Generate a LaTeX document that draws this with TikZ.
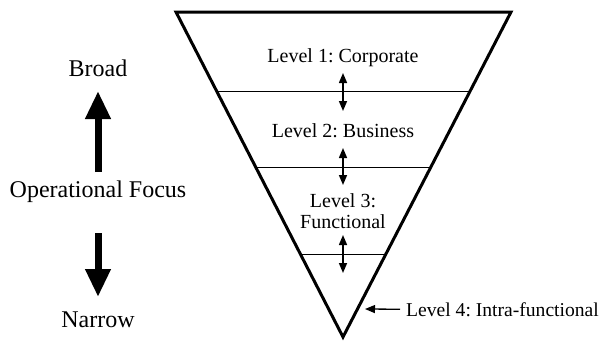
\documentclass[tikz,border=0pt]{standalone}
\usepackage{fontspec}
\setmainfont{Liberation Serif}
\usetikzlibrary{arrows.meta}
\frenchspacing
\begin{document}
\begin{tikzpicture}[x=1pt,y=-1pt,
  lvl/.style={inner sep=0pt,font=\fontsize{20}{21}\selectfont},
  side/.style={inner sep=0pt,font=\fontsize{24}{26}\selectfont},
  frame/.style={line width=3pt,line join=miter},
  divider/.style={line width=1pt},
  dbl/.style={line width=1.5pt,{Triangle[width=8pt,length=10pt]}-{Triangle[width=8pt,length=10pt]}},
  pointer/.style={line width=1.3pt,-{Triangle[width=8pt,length=10pt]}},
  bigarrow/.style={line width=7pt,-{Triangle[width=24pt,length=28pt]}}]
\useasboundingbox (0,0) rectangle (603,341);
% triangle
\coordinate (TL) at (176,12);
\coordinate (TR) at (511,12);
\coordinate (AP) at (343,337);
\draw[frame] (TL) -- (TR) -- (AP) -- cycle;
% dividers
\path (TL) -- (AP) coordinate[pos=0.246] (d1l) coordinate[pos=0.477] (d2l) coordinate[pos=0.745] (d3l);
\path (TR) -- (AP) coordinate[pos=0.246] (d1r) coordinate[pos=0.477] (d2r) coordinate[pos=0.745] (d3r);
\draw[divider] (d1l) -- (d1r);
\draw[divider] (d2l) -- (d2r);
\draw[divider] (d3l) -- (d3r);
% level texts
\node[lvl,anchor=base] (l1) at (343,62) {Level 1: Corporate};
\node[lvl,anchor=base] (l2) at (343,137) {Level 2: Business};
\node[lvl,align=center] (l3) at (343,210.8) {Level 3:\\Functional};
\node[lvl,anchor=base west,font=\fontsize{19.6}{21}\selectfont] (l4) at (406,316) {Level 4: Intra-functional};
% double arrows
\coordinate (a1t) at (343,73);  \coordinate (a1b) at (343,111);
\coordinate (a2t) at (343,148); \coordinate (a2b) at (343,185);
\coordinate (a3t) at (343,235); \coordinate (a3b) at (343,273);
\draw[dbl] (a1t) -- (a1b);
\draw[dbl] (a2t) -- (a2b);
\draw[dbl] (a3t) -- (a3b);
% level 4 pointer
\coordinate (l4tip) at (365,309);
\draw[pointer] ([xshift=-6pt]l4.west) -- (l4tip);
% left side
\node[side,anchor=base] (broad) at (98,76) {Broad};
\node[side,anchor=base] (focus) at (98,197) {Operational Focus};
\node[side,anchor=base] (narrow) at (98,327) {Narrow};
\coordinate (upfrom) at (98,172);
\coordinate (upto) at (98,91);
\coordinate (dnfrom) at (98,233);
\coordinate (dnto) at (98,297);
\draw[bigarrow] (upfrom) -- (upto);
\draw[bigarrow] (dnfrom) -- (dnto);
\end{tikzpicture}
\end{document}
